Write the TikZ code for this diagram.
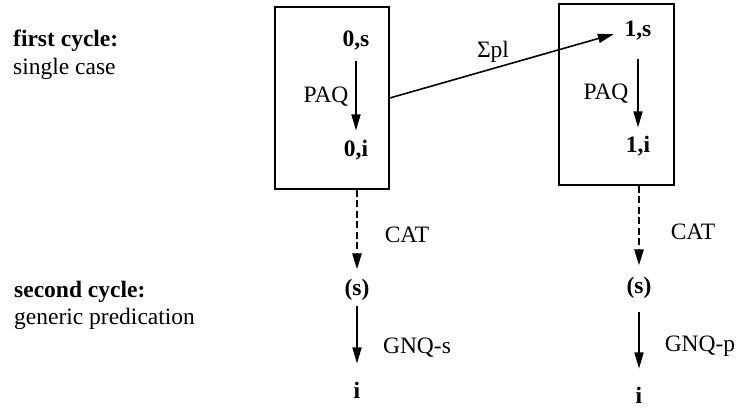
\documentclass[tikz,border=0pt]{standalone}
\usepackage{fontspec}
\setmainfont{Liberation Serif}
\usetikzlibrary{arrows.meta}
\begin{document}
\begin{tikzpicture}[x=1pt,y=-1pt,
  every node/.style={inner sep=0pt, font=\fontsize{23.5}{27}\selectfont},
  lbl/.style={anchor=base},
  bl/.style={anchor=base, font=\fontsize{23.5}{27}\selectfont\bfseries},
  side/.style={anchor=base west},
  sidebf/.style={anchor=base west, font=\fontsize{23.5}{27}\selectfont\bfseries},
  frame/.style={draw, line width=1.6pt},
  arr/.style={-{Triangle[length=16pt,width=9pt]}, line width=1.6pt},
  darr/.style={-{Triangle[length=16pt,width=9pt]}, line width=2.5pt, dash pattern=on 7pt off 3.5pt},
]
\useasboundingbox (0,0) rectangle (744,411);

% side captions
\node[sidebf] (c1) at (13,47) {first cycle:};
\node[side]   (c1b) at (13,75) {single case};
\node[sidebf] (c2) at (14,298) {second cycle:};
\node[side]   (c2b) at (14,325) {generic predication};

% boxes
\node[frame, minimum width=114pt, minimum height=182pt] (boxL) at (332,98) {};
\node[frame, minimum width=115pt, minimum height=181pt] (boxR) at (616.5,94.5) {};

% left column
\node[bl] (os) at (356,47) {0,s};
\node[bl] (oi) at (356,157) {0,i};
\node[lbl] (paqL) at (326,103) {PAQ};
\node[bl] (sL) at (357,296) {(s)};
\node[bl] (iL) at (357,398) {i};
\node[lbl] (catL) at (407,243) {CAT};
\node[lbl] (gnqs) at (417,353) {GNQ-s};

% right column
\node[bl] (ones) at (638,37) {1,s};
\node[bl] (onei) at (638,153) {1,i};
\node[lbl] (paqR) at (606,100) {PAQ};
\node[bl] (sR) at (639,294) {(s)};
\node[bl] (iR) at (639,403) {i};
\node[lbl] (catR) at (693,240) {CAT};
\node[lbl] (gnqp) at (700,352) {GNQ-p};

% sigma label
\node[lbl] (sig) at (493,58) {Σpl};

% arrows in boxes
\draw[arr] ([yshift=-10pt]os.south) -- ([yshift=10pt]oi.north);
\draw[arr] ([yshift=-18pt]ones.south) -- ([yshift=9pt]onei.north);

% sigma arrow
\draw[arr, shorten >=11pt] (boxL.east) -- (ones.west);

% dashed arrows
\draw[darr] (sL |- boxL.south) -- ([yshift=10pt]sL.north);
\draw[darr] (sR |- boxR.south) -- ([yshift=12pt]sR.north);

% solid arrows below
\draw[arr] ([yshift=-5pt]sL.south) -- ([yshift=18pt]iL.north);
\draw[arr] ([yshift=-13pt]sR.south) -- ([yshift=18pt]iR.north);
\end{tikzpicture}
\end{document}
